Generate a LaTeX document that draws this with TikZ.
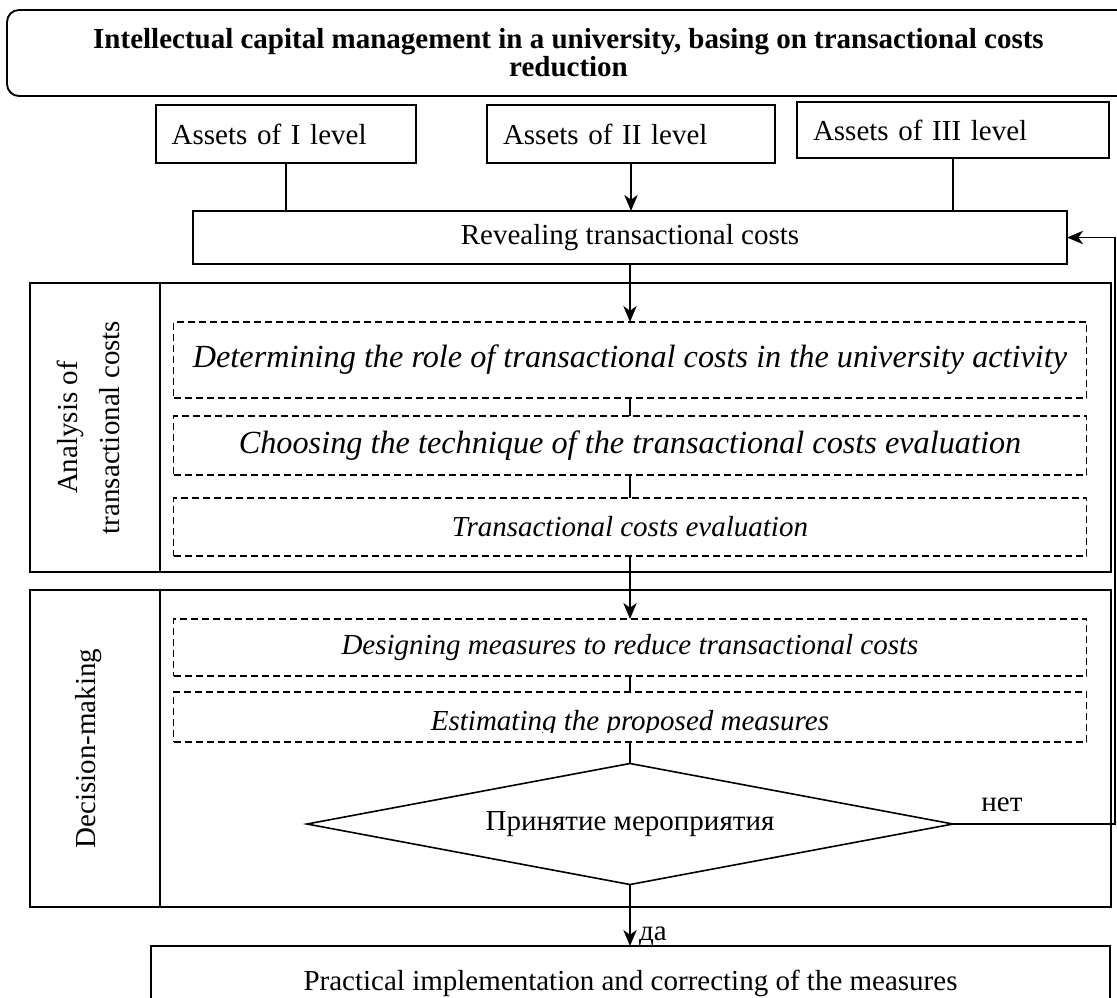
\documentclass[tikz,border=0pt]{standalone}
\usepackage{fontspec}
\setmainfont{Liberation Serif}
\usetikzlibrary{arrows.meta,shapes.geometric}
\begin{document}
\begin{tikzpicture}[x=0.75pt,y=-0.75pt,
  every node/.style={inner sep=0pt, outer sep=0pt, font=\fontsize{21.75}{26}\selectfont},
  solidbox/.style={draw, line width=1.4pt},
  assetbox/.style={solidbox, inner xsep=12pt, align=left},
  dbox/.style={draw, line width=1.2pt, dash pattern=on 5.25pt off 3pt, minimum width=913*0.75pt, font=\fontsize{21.75}{26}\selectfont\itshape},
  bigital/.style={font=\fontsize{24.2}{29}\selectfont\itshape},
  ital/.style={font=\fontsize{21.75}{26}\selectfont\itshape},
  conn/.style={line width=1.2pt},
  arr/.style={conn, -{Stealth[length=12pt,width=10pt,inset=3.5pt]}},
]
\useasboundingbox (0,0) rectangle (1117,997);
\clip (0,0) rectangle (1117,997);

% title
\node[solidbox, rounded corners=9pt, minimum width=1123*0.75pt, minimum height=86*0.75pt,
      align=center, font=\fontsize{21.75}{21}\selectfont\bfseries] (title) at (568.5,53)
  {Intellectual capital management in a university, basing on transactional costs\\reduction};

% assets
\node[assetbox, text width=171pt, minimum height=58*0.75pt] (a1) at (285.7,134) {Assets of I level};
\node[assetbox, text width=192pt, minimum height=58*0.75pt] (a2) at (631,134) {Assets of II level};
\node[assetbox, text width=210pt, minimum height=56*0.75pt] (a3) at (953,130) {Assets of III level};

% revealing
\node[solidbox, minimum width=874*0.75pt, minimum height=53*0.75pt] (reveal) at (630,237.5) {Revealing transactional costs};

% outer frames
\node[solidbox, minimum width=1081*0.75pt, minimum height=289*0.75pt] (outer1) at (570.5,427.5) {};
\draw[line width=1.4pt] (160,283) -- (160,572);
\node[rotate=90, align=center, font=\fontsize{21.75}{31.5}\selectfont] (lab1) at (88,427.5) {Analysis of\\transactional costs};

\node[solidbox, minimum width=1081*0.75pt, minimum height=317*0.75pt] (outer2) at (570.5,748.5) {};
\draw[line width=1.4pt] (160,590) -- (160,907);
\node[rotate=90] (lab2) at (89,748.5) {Decision-making};

% dashed steps
\node[dbox, bigital, minimum height=76*0.75pt] (d1) at (630,360) {Determining the role of transactional costs in the university activity};
\node[dbox, bigital, minimum height=59*0.75pt] (d2) at (630,445.5) {Choosing the technique of the transactional costs evaluation};
\node[dbox, minimum height=58*0.75pt] (d3) at (630,527) {Transactional costs evaluation};
\node[dbox, minimum height=57*0.75pt] (d4) at (630,647.5) {Designing measures to reduce transactional costs};
\node[dbox, minimum height=50*0.75pt] (d5) at (630,717) {};
\begin{scope}
  \clip (174,692) rectangle (1087,732);
  \node[ital, anchor=base] (t5) at (630,730) {Estimating the proposed measures};
\end{scope}

% decision
\node[draw, line width=1.2pt, shape=diamond, shape aspect=5.34, minimum width=646*0.75pt, minimum height=121*0.75pt] (dec) at (630,824) {Принятие мероприятия};

% implementation
\node[solidbox, minimum width=959*0.75pt, minimum height=74*0.75pt] (impl) at (630.5,983) {Practical implementation and correcting of the measures};

% connectors
\draw[conn] (a1.south) -- (a1.south |- reveal.north);
\draw[arr] (a2.south) -- (a2.south |- reveal.north);
\draw[conn] (a3.south) -- (a3.south |- reveal.north);
\draw[arr] (reveal.south) -- (d1.north);
\draw[conn] (d1.south) -- (d2.north);
\draw[conn] (d2.south) -- (d3.north);
\draw[arr] (d3.south) -- (d4.north);
\draw[conn] (d4.south) -- (d5.north);
\draw[conn] (d5.south) -- (dec.north);
\coordinate (fb) at (1115,824);
\draw[arr] (dec.east) -- (fb) |- (reveal.east);
\node (no) at (1002,805) {нет};
\draw[arr] (dec.south) -- (dec.south |- impl.north);
\node (yes) at (653,936) {да};
\end{tikzpicture}
\end{document}
